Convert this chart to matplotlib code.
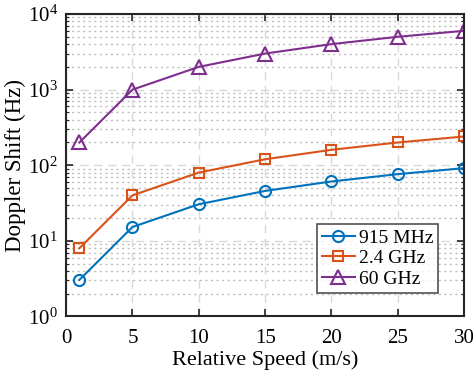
import matplotlib.pyplot as plt
from matplotlib.ticker import LogLocator, NullFormatter

plt.rcParams['font.family'] = ['Liberation Serif', 'DejaVu Serif']
plt.rcParams['mathtext.fontset'] = 'stix'

speed = [1, 5, 10, 15, 20, 25, 30]
shift_915 = [3.05, 15.25, 30.5, 45.75, 61, 76.25, 91.5]
shift_24 = [8, 40, 80, 120, 160, 200, 240]
shift_60 = [200, 1000, 2000, 3000, 4000, 5000, 6000]

fig = plt.figure(figsize=(4.76, 3.79), dpi=100)
ax = fig.add_axes([0.139, 0.165, 0.836, 0.798])

ax.plot(speed, shift_915, '-o', color='#0072BD', lw=1.5, ms=8, mfc='none', mew=1.5, label='915 MHz')
ax.plot(speed, shift_24, '-s', color='#D95319', lw=1.5, ms=7, mfc='none', mew=1.5, label='2.4 GHz')
ax.plot(speed, shift_60, '-^', color='#7E2F8E', lw=1.5, ms=10, mfc='none', mew=1.5, label='60 GHz')

ax.set_yscale('log')
ax.set_xlim(0, 30)
ax.set_ylim(1, 1e4)
ax.set_xticks([0, 5, 10, 15, 20, 25, 30])
ax.yaxis.set_major_locator(LogLocator(base=10, numticks=10))
ax.yaxis.set_minor_locator(LogLocator(base=10, subs=range(2, 10), numticks=100))
ax.yaxis.set_minor_formatter(NullFormatter())

ax.grid(True, which='major', ls=(0, (6, 4)), color='#d9d9d9', lw=1.0)
ax.grid(True, which='minor', axis='y', ls=(0, (1.5, 2.5)), color='#bdbdbd', lw=1.0)
ax.set_axisbelow(True)

ax.tick_params(which='both', direction='in', top=True, right=True, labelsize=15, color='#262626')
ax.tick_params(which='major', length=5, width=1.2)
ax.tick_params(axis='x', which='major', pad=9)
ax.tick_params(axis='y', which='major', pad=6)
ax.tick_params(which='minor', length=2.5, width=0.8)
for s in ax.spines.values():
    s.set_linewidth(1.5)
    s.set_color('#262626')

ax.set_xlabel('Relative Speed (m/s)', fontsize=16, labelpad=2)
ax.set_ylabel('Doppler Shift (Hz)', fontsize=16.5, labelpad=1)

leg = ax.legend(loc='lower right', bbox_to_anchor=(0.935, 0.079), fontsize=14, frameon=True,
                fancybox=False, edgecolor='#262626', handlelength=1.7, handletextpad=0.2,
                borderpad=0.25, labelspacing=0.15, borderaxespad=0)
leg.get_frame().set_linewidth(1.2)

fig.savefig('out.png', dpi=100)
